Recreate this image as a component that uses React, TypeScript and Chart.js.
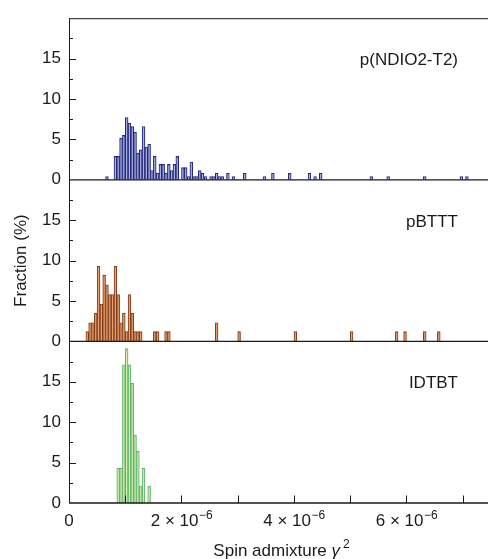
import React, { useEffect, useRef } from "react";
import { Chart, registerables } from "chart.js";

Chart.register(...registerables);

// Histogram bins: left edge of each bin, in units of 1e-6 (spin admixture gamma^2)
const BIN_WIDTH = 0.05;

const ndioBins = [
  0.65, 0.8, 0.85, 0.9, 0.95, 1.0, 1.05, 1.1, 1.15, 1.2, 1.25, 1.3, 1.35, 1.4,
  1.45, 1.5, 1.55, 1.6, 1.65, 1.7, 1.75, 1.8, 1.85, 1.9, 2.0, 2.05, 2.1, 2.15,
  2.2, 2.25, 2.3, 2.35, 2.4, 2.5, 2.55, 2.6, 2.65, 2.7, 2.8, 2.9, 3.1, 3.45,
  3.6, 3.9, 4.25, 4.35, 4.45, 5.35, 5.65, 6.3, 6.95, 7.05,
];
const ndioFrac = [
  0.4, 2.9, 2.9, 5.15, 5.5, 7.7, 7.0, 6.6, 5.9, 3.3, 3.7, 6.6, 4.05, 4.4,
  1.15, 2.9, 0.8, 1.9, 1.9, 0.8, 1.9, 1.15, 1.9, 2.9, 1.5, 1.5, 0.4, 2.2,
  0.4, 0.4, 1.15, 0.8, 0.4, 0.4, 0.4, 0.8, 0.4, 0.4, 0.8, 0.4, 0.8, 0.4,
  0.8, 0.8, 0.8, 0.4, 0.8, 0.4, 0.4, 0.4, 0.4, 0.4,
];

const pbtttBins = [
  0.3, 0.35, 0.4, 0.45, 0.5, 0.55, 0.6, 0.65, 0.7, 0.75, 0.8, 0.85, 0.9, 0.95,
  1.0, 1.05, 1.1, 1.15, 1.2, 1.25, 1.5, 1.55, 1.7, 1.75, 2.6, 3.0, 4.0, 5.0,
  5.8, 5.95, 6.3, 6.55,
];
const pbtttFrac = [
  1.2, 2.3, 2.3, 3.5, 9.3, 4.6, 8.2, 7.0, 5.8, 5.8, 9.3, 5.8, 2.3, 3.5,
  1.2, 5.8, 3.5, 1.2, 1.2, 1.2, 1.2, 1.2, 1.2, 1.2, 2.3, 1.2, 1.2, 1.2,
  1.2, 1.2, 1.2, 1.2,
];

const idtbtBins = [0.85, 0.9, 0.95, 1.0, 1.05, 1.1, 1.15, 1.2, 1.25, 1.3, 1.4];
const idtbtFrac = [4.3, 4.3, 17.1, 19.1, 17.1, 14.8, 8.4, 6.4, 2.1, 4.3, 2.1];

const panelNames = ["p(NDIO2-T2)", "pBTTT", "IDTBT"];
const xLabelValues = [0, 2, 4, 6];
const xMinorValues = [1, 2, 3, 4, 5, 6, 7];
const yLabelValues = [0, 5, 10, 15];
const X_MAX = 7.45;
const Y_MAX = 20;

const FONT = "'Liberation Sans', Arial, Helvetica, sans-serif";
const INK = "#1a1a1a";

const toPoints = (bins: number[], frac: number[]) =>
  bins.map((b, i) => ({ x: b + BIN_WIDTH / 2, y: frac[i] }));

const framePlugin = {
  id: "framePlugin",
  afterDatasetsDraw(chart: any) {
    const ctx: CanvasRenderingContext2D = chart.ctx;
    const { left, right, top, bottom } = chart.chartArea;
    const xs = chart.scales.x;
    const ys = [chart.scales.yTop, chart.scales.yMid, chart.scales.yBot];
    ctx.save();
    ctx.strokeStyle = INK;
    ctx.lineWidth = 1;
    ctx.beginPath();
    ctx.moveTo(left + 0.5, top);
    ctx.lineTo(left + 0.5, bottom);
    ctx.moveTo(left, top + 0.5);
    ctx.lineTo(right, top + 0.5);
    ctx.stroke();
    ctx.lineWidth = 1.3;
    ctx.beginPath();
    ys.forEach((s: any) => {
      const py = s.getPixelForValue(0);
      ctx.moveTo(left, py);
      ctx.lineTo(right, py);
    });
    ctx.stroke();
    ctx.lineWidth = 1;
    ctx.beginPath();
    ys.forEach((s: any) => {
      for (let k = 1; k < 8; k++) {
        const v = k * 2.5;
        const py = Math.round(s.getPixelForValue(v)) + 0.5;
        const len = k % 2 === 0 ? 7 : 4;
        ctx.moveTo(left, py);
        ctx.lineTo(left + len, py);
      }
    });
    xMinorValues.forEach((v) => {
      const px = Math.round(xs.getPixelForValue(v)) + 0.5;
      ctx.moveTo(px, bottom);
      ctx.lineTo(px, bottom - 7.5);
    });
    ctx.stroke();

    ctx.fillStyle = INK;
    ctx.textBaseline = "alphabetic";
    xLabelValues.forEach((v) => {
      const px = xs.getPixelForValue(v);
      if (v === 0) {
        ctx.font = `17px ${FONT}`;
        ctx.textAlign = "center";
        ctx.fillText("0", px, bottom + 23);
      } else {
        const base = `${v} \u00d7 10`;
        const sup = "\u22126";
        ctx.font = `17px ${FONT}`;
        const wb = ctx.measureText(base).width;
        ctx.font = `12px ${FONT}`;
        const ws = ctx.measureText(sup).width;
        const start = px - (wb + ws) / 2;
        ctx.textAlign = "left";
        ctx.font = `17px ${FONT}`;
        ctx.fillText(base, start, bottom + 23);
        ctx.font = `12px ${FONT}`;
        ctx.fillText(sup, start + wb + 0.5, bottom + 16);
      }
    });

    {
      const t1 = "Spin admixture ";
      const t2 = "\u03b3";
      const t3 = "2";
      ctx.font = `17px ${FONT}`;
      const w1 = ctx.measureText(t1).width;
      ctx.font = `italic 17px ${FONT}`;
      const w2 = ctx.measureText(t2).width;
      ctx.font = `12px ${FONT}`;
      const w3 = ctx.measureText(t3).width;
      const total = w1 + w2 + 3 + w3;
      const cx = (left + right) / 2 + 3;
      let sx = cx - total / 2;
      const by = bottom + 53;
      ctx.textAlign = "left";
      ctx.font = `17px ${FONT}`;
      ctx.fillText(t1, sx, by);
      sx += w1;
      ctx.font = `italic 17px ${FONT}`;
      ctx.fillText(t2, sx, by);
      sx += w2 + 3;
      ctx.font = `12px ${FONT}`;
      ctx.fillText(t3, sx, by - 8);
    }

    ctx.save();
    ctx.translate(26, (top + bottom) / 2);
    ctx.rotate(-Math.PI / 2);
    ctx.font = `17px ${FONT}`;
    ctx.textAlign = "center";
    ctx.fillText("Fraction (%)", 0, 0);
    ctx.restore();

    ctx.font = `17px ${FONT}`;
    ctx.textAlign = "right";
    ys.forEach((s: any, i: number) => {
      ctx.fillText(panelNames[i], right - 30, s.getPixelForValue(15) + 6.5);
    });
    ctx.restore();
  },
};

const yAxis = (weight: number) => ({
  type: "linear" as const,
  position: "left" as const,
  stack: "panels",
  stackWeight: 1,
  weight,
  min: 0,
  max: Y_MAX,
  grid: { display: false, drawTicks: false, tickLength: 0 },
  border: { display: false },
  ticks: {
    stepSize: 2.5,
    autoSkip: false,
    padding: 8,
    color: INK,
    font: { family: FONT, size: 17 },
    callback: (v: any) =>
      yLabelValues.includes(Number(v)) ? String(v) : "",
  },
  afterFit: (s: any) => {
    s.width = 69;
  },
});

export default function App() {
  const ref = useRef<HTMLCanvasElement | null>(null);
  useEffect(() => {
    if (!ref.current) return;
    const common = {
      type: "bar" as const,
      borderWidth: 1.1,
      barPercentage: 1,
      categoryPercentage: 1,
      grouped: false,
      xAxisID: "x",
    };
    const chart = new Chart(ref.current, {
      type: "bar",
      data: {
        datasets: [
          {
            ...common,
            label: panelNames[0],
            data: toPoints(ndioBins, ndioFrac),
            yAxisID: "yTop",
            backgroundColor: "#a9b0e3",
            borderColor: "#242878",
          },
          {
            ...common,
            label: panelNames[1],
            data: toPoints(pbtttBins, pbtttFrac),
            yAxisID: "yMid",
            backgroundColor: "#e9a070",
            borderColor: "#83401c",
          },
          {
            ...common,
            label: panelNames[2],
            data: toPoints(idtbtBins, idtbtFrac),
            yAxisID: "yBot",
            backgroundColor: "#d6ebae",
            borderColor: "#5fb56e",
          },
        ] as any,
      },
      options: {
        animation: false,
        responsive: true,
        maintainAspectRatio: false,
        layout: { padding: { top: 15, right: 0, left: 0, bottom: 0 } },
        plugins: {
          legend: { display: false },
          tooltip: { enabled: false },
          title: { display: false },
        },
        scales: {
          x: {
            type: "linear",
            offset: false,
            min: 0,
            max: X_MAX,
            grid: { display: false, drawTicks: false, tickLength: 0 },
            border: { display: false },
            ticks: { stepSize: 1, display: false },
            afterFit: (s: any) => {
              s.height = 56;
            },
          },
          yTop: yAxis(3),
          yMid: yAxis(2),
          yBot: yAxis(1),
        } as any,
      },
      plugins: [framePlugin],
    });
    return () => chart.destroy();
  }, []);

  return (
    <div
      style={{
        position: "fixed",
        left: 0,
        top: 0,
        width: 488,
        height: 559,
        background: "#fff",
      }}
    >
      <canvas ref={ref} />
    </div>
  );
}
